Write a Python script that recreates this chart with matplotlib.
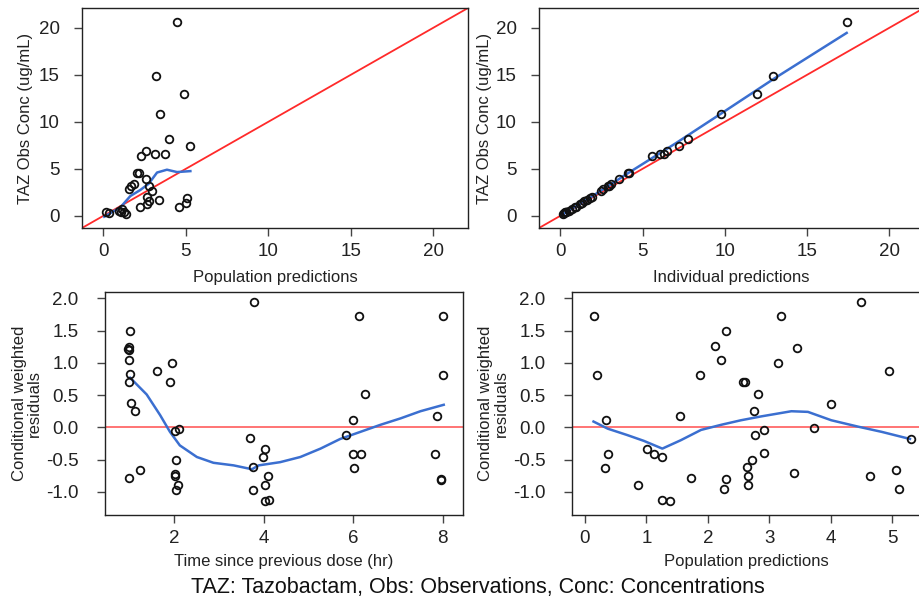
import matplotlib
matplotlib.use("Agg")
import matplotlib.pyplot as plt

plt.rcParams['font.family'] = ['Liberation Sans', 'DejaVu Sans']

# observed TAZ concentrations (same observations in both top panels)
obs = [20.6, 14.85, 13.0, 10.8, 8.2, 7.4, 6.9, 6.4, 6.6, 6.6,
       4.6, 4.6, 3.9, 3.35, 3.2, 3.2, 2.8, 2.6, 1.96, 1.9,
       1.68, 1.53, 1.36, 1.25, 0.96, 0.96, 0.72, 0.54, 0.35, 0.35,
       0.35, 0.25, 0.18]
pred = [4.48, 3.17, 4.91, 3.43, 3.98, 5.25, 2.56, 2.26, 3.13, 3.72,
        2.05, 2.15, 2.56, 1.85, 1.7, 2.76, 1.55, 2.93, 2.67, 5.09,
        3.37, 2.76, 5.01, 2.62, 2.22, 4.58, 1.15, 0.95, 0.14, 1.25,
        1.05, 0.34, 1.35]
ipred = [17.4, 12.93, 11.94, 9.75, 7.73, 7.18, 6.45, 5.54, 6.06, 6.29,
         4.08, 4.18, 3.54, 3.1, 2.96, 2.9, 2.6, 2.45, 1.9, 1.82,
         1.6, 1.45, 1.3, 1.2, 0.95, 0.9, 0.7, 0.52, 0.35, 0.32,
         0.3, 0.22, 0.15]

# CWRES vs time since dose
time_bl = [1.02, 1.0, 0.98, 1.0, 1.0, 1.02, 0.99, 1.04, 1.13, 0.99,
           1.24, 1.61, 1.95, 1.92, 2.02, 2.11, 2.04, 2.03, 2.03, 2.1,
           2.04, 3.7, 3.79, 3.76, 3.76, 4.02, 3.99, 4.09, 4.04, 4.02,
           4.13, 6.14, 8.0, 8.0, 6.26, 6.0, 7.88, 5.84, 6.0, 6.18,
           6.01, 7.83, 7.97, 7.97]
cwres_bl = [1.49, 1.25, 1.22, 1.2, 1.05, 0.82, 0.71, 0.38, 0.26, -0.79,
            -0.66, 0.88, 1.0, 0.71, -0.05, -0.02, -0.51, -0.72, -0.76, -0.89,
            -0.97, -0.17, 1.94, -0.61, -0.97, -0.34, -0.46, -0.75, -0.89, -1.15,
            -1.12, 1.72, 1.72, 0.81, 0.52, 0.12, 0.17, -0.12, -0.41, -0.41,
            -0.63, -0.41, -0.8, -0.82]

# CWRES vs population predictions
pred_br = [0.15, 0.2, 0.35, 0.38, 0.32, 0.87, 1.01, 1.13, 1.26, 1.26,
           1.38, 1.55, 1.72, 1.88, 2.11, 2.21, 2.29, 2.29, 2.27, 2.58,
           2.6, 2.82, 2.75, 2.77, 2.92, 2.91, 2.72, 2.63, 2.66, 2.66,
           3.19, 3.14, 3.46, 3.41, 3.73, 4.01, 4.49, 4.64, 4.95, 5.06,
           5.11, 5.3]
cwres_br = [1.72, 0.81, 0.12, -0.41, -0.63, -0.89, -0.34, -0.41, -0.46, -1.12,
            -1.15, 0.17, -0.78, 0.81, 1.26, 1.05, 1.49, -0.8, -0.96, 0.71,
            0.70, 0.52, 0.26, -0.12, -0.04, -0.4, -0.51, -0.61, -0.75, -0.89,
            1.72, 1.0, 1.23, -0.71, -0.01, 0.37, 1.94, -0.75, 0.88, -0.66,
            -0.95, -0.18]

# loess smooth lines
tl_loess_x = [0.05, 1.03, 1.63, 2.24, 2.74, 3.25, 3.85, 4.46, 5.27]
tl_loess_y = [-0.1, 0.9, 2.1, 2.75, 3.4, 4.6, 4.9, 4.65, 4.75]
tr_loess_x = [0.15, 2.0, 4.08, 7.0, 9.75, 13.0, 17.4]
tr_loess_y = [0.15, 2.15, 4.5, 7.7, 10.85, 14.6, 19.45]
bl_loess_x = [1.02, 1.39, 1.69, 1.91, 2.13, 2.51, 2.88, 3.33, 3.74, 3.89,
              4.37, 4.82, 5.27, 5.71, 6.16, 6.61, 7.06, 7.5, 8.02]
bl_loess_y = [0.77, 0.51, 0.19, -0.07, -0.28, -0.46, -0.55, -0.59, -0.65, -0.59,
              -0.54, -0.46, -0.33, -0.18, -0.07, 0.04, 0.14, 0.25, 0.35]
br_loess_x = [0.14, 0.37, 0.69, 0.96, 1.26, 1.56, 1.89, 2.22, 2.54, 2.87,
              3.36, 3.63, 4.01, 4.45, 4.83, 5.29]
br_loess_y = [0.09, -0.02, -0.12, -0.21, -0.33, -0.2, -0.04, 0.04, 0.11, 0.17,
              0.25, 0.24, 0.11, 0.01, -0.07, -0.18]

conc_ticks = [0, 5, 10, 15, 20]
res_ticks = [-1.0, -0.5, 0.0, 0.5, 1.0, 1.5, 2.0]
res_labels = ['-1.0', '-0.5', '0.0', '0.5', '1.0', '1.5', '2.0']

red = '#ff2a2a'
blue = '#3b6fd0'

W, H = 919, 599
fig = plt.figure(figsize=(W / 100, H / 100), dpi=100)

def box(l, t, r, b):
    # axes from pixel edges
    return fig.add_axes([l / W, 1 - b / H, (r - l) / W, (b - t) / H])

ax_tl = box(82, 8, 468, 228)
ax_tr = box(539, 8, 924, 228)
ax_bl = box(105, 292, 463, 515)
ax_br = box(572, 292, 921, 515)

def style(ax, ypad):
    for s in ax.spines.values():
        s.set_linewidth(1.0)
        s.set_color('#222222')
    ax.tick_params(direction='out', length=6, width=1, color='#444444',
                   labelsize=13.5, labelcolor='#222222')
    ax.tick_params(axis='x', pad=5)
    ax.tick_params(axis='y', pad=ypad)

def pts(ax, x, y):
    ax.plot(x, y, 'o', mfc='none', mec='#111111', ms=5.5, mew=1.3, zorder=4)

# top panels: observed vs predicted
for ax, xv, lx, ly, xl in [(ax_tl, pred, tl_loess_x, tl_loess_y, 'Population predictions'),
                            (ax_tr, ipred, tr_loess_x, tr_loess_y, 'Individual predictions')]:
    ax.plot([-5, 30], [-5, 30], color=red, lw=1.3, zorder=2)
    pts(ax, xv, obs)
    ax.plot(lx, ly, color=blue, lw=1.8, zorder=3)
    ax.set_xlim(-1.3, 22.1)
    ax.set_ylim(-1.3, 22.1)
    ax.set_xticks(conc_ticks)
    ax.set_yticks(conc_ticks)
    ax.set_xlabel(xl, fontsize=12, labelpad=7, color='#222222')
    ax.set_ylabel('TAZ Obs Conc (ug/mL)', fontsize=12, color='#222222')
    style(ax, 10)
ax_tl.yaxis.set_label_coords(-0.128, 0.5)
ax_tr.yaxis.set_label_coords(-0.122, 0.5)

# bottom panels: CWRES
for ax, xv, yv, lx, ly, xl in [(ax_bl, time_bl, cwres_bl, bl_loess_x, bl_loess_y, 'Time since previous dose (hr)'),
                                (ax_br, pred_br, cwres_br, br_loess_x, br_loess_y, 'Population predictions')]:
    ax.axhline(0, color='#ff5c5c', lw=1.2, zorder=2)
    pts(ax, xv, yv)
    ax.plot(lx, ly, color=blue, lw=1.8, zorder=3)
    ax.set_ylim(-1.36, 2.1)
    ax.set_yticks(res_ticks)
    ax.set_yticklabels(res_labels)
    ax.set_xlabel(xl, fontsize=12, labelpad=5, color='#222222')
    ax.set_ylabel('Conditional weighted\nresiduals', fontsize=12, color='#222222',
                  linespacing=1.05)
    style(ax, 13)

ax_bl.set_xlim(0.46, 8.45)
ax_bl.set_xticks([2, 4, 6, 8])
ax_br.set_xlim(-0.21, 5.47)
ax_br.set_xticks([0, 1, 2, 3, 4, 5])
ax_bl.yaxis.set_label_coords(-0.175, 0.5)
ax_br.yaxis.set_label_coords(-0.182, 0.5)

fig.text(0.5196, 1 - 588 / H, 'TAZ: Tazobactam, Obs: Observations, Conc: Concentrations',
         ha='center', va='center', fontsize=15.5, color='#111111')

fig.savefig('out.png', dpi=100)
